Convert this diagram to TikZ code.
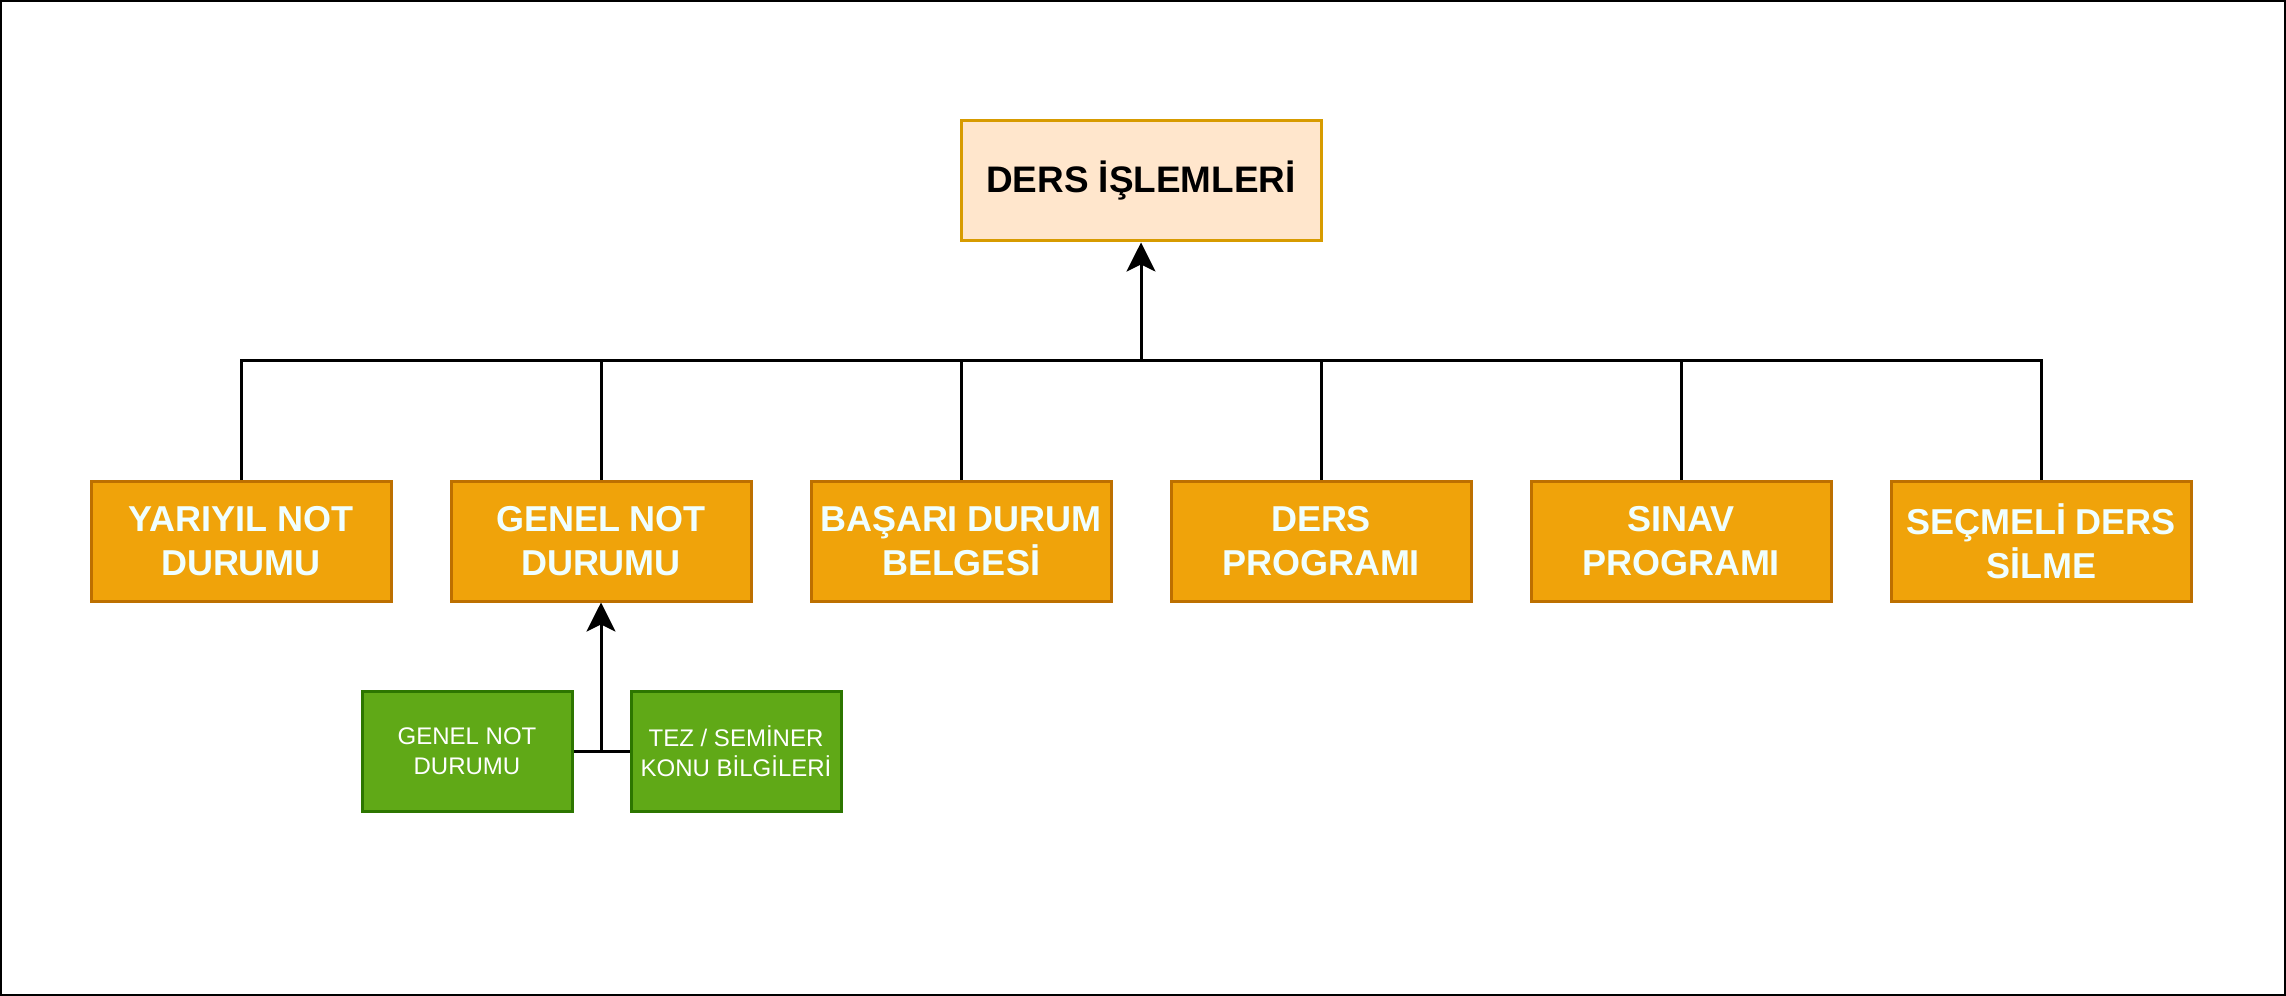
\documentclass[tikz,border=0pt]{standalone}
\usepackage{fontspec}
\setmainfont{Liberation Sans}
\usetikzlibrary{arrows.meta}
\definecolor{topfill}{HTML}{FFE6CC}
\definecolor{topline}{HTML}{D79B00}
\definecolor{orfill}{HTML}{F0A30A}
\definecolor{orline}{HTML}{BD7000}
\definecolor{grfill}{HTML}{60A917}
\definecolor{grline}{HTML}{2D7600}
\definecolor{ortext}{HTML}{F0FFFF}
\begin{document}
\begin{tikzpicture}[
    topbox/.style={draw=topline, fill=topfill, line width=0.03cm, minimum width=3.6cm, minimum height=1.2cm, inner sep=0pt, align=center, font=\fontsize{10.5pt}{12.6pt}\selectfont\bfseries},
    modbox/.style={draw=orline, fill=orfill, line width=0.03cm, minimum width=3cm, minimum height=1.2cm, inner sep=0pt, align=center, text=ortext, font=\fontsize{10.24pt}{12.4pt}\selectfont\bfseries},
    subbox/.style={draw=grline, fill=grfill, line width=0.03cm, minimum width=2.1cm, minimum height=1.2cm, inner sep=0pt, align=center, text=white, font=\fontsize{6.83pt}{8.5pt}\selectfont},
    link/.style={line width=0.03cm},
    uparrow/.style={line width=0.03cm, -{Stealth[length=0.29cm, width=0.29cm, inset=0.07cm]}}
]
    \useasboundingbox (0,0) rectangle (22.86,-9.96);
    \draw[line width=0.6pt] (0.01,-0.01) rectangle (22.85,-9.95);

    \node[topbox] (ders) at (11.41,-1.81) {DERS İŞLEMLERİ};

    \node[modbox] (yariyil) at (2.41,-5.41) {YARIYIL NOT\\DURUMU};
    \node[modbox] (genel) at (6.01,-5.41) {GENEL NOT\\DURUMU};
    \node[modbox] (basari) at (9.61,-5.41) {BAŞARI DURUM\\BELGESİ};
    \node[modbox] (program) at (13.21,-5.41) {DERS\\PROGRAMI};
    \node[modbox] (sinav) at (16.81,-5.41) {SINAV\\PROGRAMI};
    \node[modbox] (secmeli) at (20.41,-5.41) {SEÇMELİ DERS\\SİLME};

    \node[subbox] (gnot) at (4.67,-7.51) {GENEL NOT\\DURUMU};
    \node[subbox] (tez) at (7.36,-7.51) {TEZ / SEMİNER\\KONU BİLGİLERİ};

    \coordinate (bus) at (11.41,-3.60);
    \draw[link] (yariyil.north) |- (bus) -| (secmeli.north);
    \draw[link] (genel.north) -- (genel.north |- bus);
    \draw[link] (basari.north) -- (basari.north |- bus);
    \draw[link] (program.north) -- (program.north |- bus);
    \draw[link] (sinav.north) -- (sinav.north |- bus);
    \draw[uparrow] (bus) -- (ders.south);

    \draw[link] (gnot.east) -- (tez.west);
    \draw[uparrow] (gnot.east -| genel.south) -- (genel.south);

\end{tikzpicture}
\end{document}
